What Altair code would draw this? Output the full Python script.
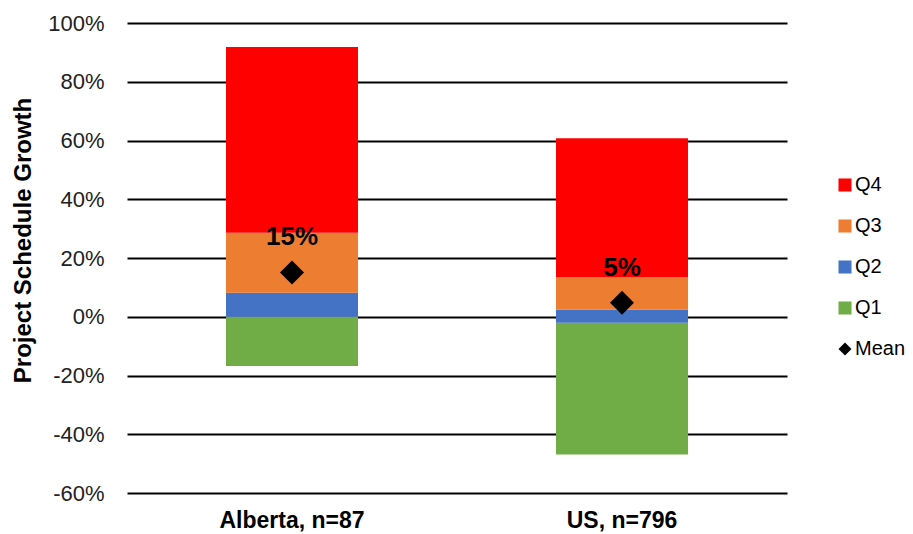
import altair as alt
import pandas as pd

categories = ["Alberta, n=87", "US, n=796"]
mins = [-0.168, -0.469]
q1s = [0.0, -0.020]
medians = [0.082, 0.024]
q3s = [0.286, 0.135]
maxs = [0.918, 0.608]
means = [0.151, 0.048]

segments = ["Q4", "Q3", "Q2", "Q1", "Mean"]
seg_colors = ["#FF0000", "#ED7D31", "#4472C4", "#70AD47", "#000000"]
seg_shapes = ["square", "square", "square", "square", "diamond"]
y_ticks = [-0.6, -0.4, -0.2, 0.0, 0.2, 0.4, 0.6, 0.8, 1.0]

rows = []
for i, c in enumerate(categories):
    bounds = [mins[i], q1s[i], medians[i], q3s[i], maxs[i]]
    for k, seg in enumerate(["Q1", "Q2", "Q3", "Q4"]):
        rows.append({"cat": c, "seg": seg, "lo": bounds[k], "hi": bounds[k + 1]})
bars_df = pd.DataFrame(rows)
mean_df = pd.DataFrame({"cat": categories, "mean": means, "seg": ["Mean"] * len(categories)})

FONT = "Liberation Sans"

color_scale = alt.Scale(domain=segments, range=seg_colors)
shape_scale = alt.Scale(domain=segments, range=seg_shapes)

x_enc = alt.X(
    "cat:N",
    sort=categories,
    scale=alt.Scale(paddingInner=0.6, paddingOuter=0.3),
    axis=alt.Axis(
        title=None, labelAngle=0, ticks=False, domain=False, grid=False,
        labelFont=FONT, labelFontSize=23, labelFontWeight="bold",
        labelColor="#000000", labelPadding=16,
    ),
)
y_scale = alt.Scale(domain=[-0.6, 1.0], nice=False, zero=False)

bars = alt.Chart(bars_df).mark_bar().encode(
    x=x_enc,
    y=alt.Y(
        "lo:Q",
        scale=y_scale,
        axis=alt.Axis(
            values=y_ticks, format=".0%",
            labelExpr="replace(format(datum.value, '.0%'), '\u2212', '-')",
            title="Project Schedule Growth", titleFont=FONT, titleFontSize=24,
            titleFontWeight="bold", titleColor="#000000",
            titleAngle=-90, titleX=-104, titleY=217, titleAlign="center", titleBaseline="middle",
            labelFont=FONT, labelFontSize=22, labelColor="#222222", labelPadding=23,
            ticks=False, domain=False, grid=True, gridColor="#000000", gridWidth=2,
        ),
    ),
    y2="hi:Q",
    color=alt.Color(
        "seg:N", scale=color_scale,
        legend=alt.Legend(
            title=None, orient="none", legendX=708, legendY=152, padding=0,
            labelFont=FONT, labelFontSize=20, labelColor="#000000",
            symbolSize=170, rowPadding=21, labelOffset=0, symbolStrokeWidth=0,
            values=segments,
        ),
    ),
)

points = alt.Chart(mean_df).mark_point(filled=True, size=576, opacity=1).encode(
    x=alt.X("cat:N", sort=categories),
    y=alt.Y("mean:Q", scale=y_scale),
    color=alt.Color("seg:N", scale=color_scale),
    shape=alt.Shape("seg:N", scale=shape_scale),
)

labels = alt.Chart(mean_df).mark_text(
    dy=-35, fontSize=26, fontWeight="bold", font=FONT, color="#000000", baseline="middle"
).encode(
    x=alt.X("cat:N", sort=categories),
    y=alt.Y("mean:Q", scale=y_scale),
    text=alt.Text("mean:Q", format=".0%"),
)

chart = alt.layer(bars, points, labels).properties(
    width=660, height=470,
    background="#ffffff",
    autosize=alt.AutoSizeParams(type="none"),
    padding={"left": 119, "top": 15, "right": 118, "bottom": 41},
).configure_view(stroke=None)

chart.save("out.html", embed_options={"renderer": "svg", "actions": False})
